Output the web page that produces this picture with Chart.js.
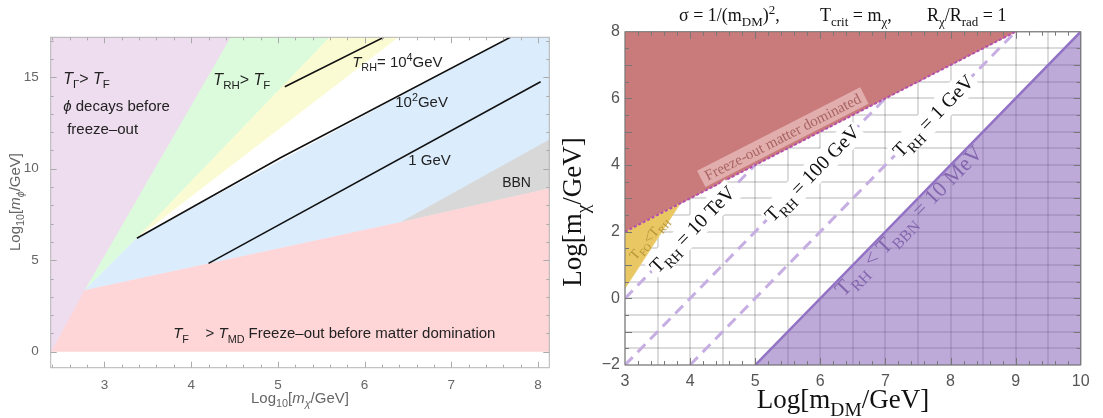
<!DOCTYPE html>
<html>
<head>
<meta charset="utf-8">
<script src="https://cdn.jsdelivr.net/npm/chart.js@4.4.1/dist/chart.umd.min.js"></script>
<style>
  html, body { margin: 0; padding: 0; background: #fff; }
  #wrap { position: relative; width: 1103px; height: 418px; }
  #leftBox { position: absolute; left: 0; top: 0; width: 560px; height: 418px; }
  #rightBox { position: absolute; left: 540px; top: 0; width: 563px; height: 418px; }
</style>
</head>
<body>
<div id="wrap">
  <div id="leftBox"><canvas id="leftChart" width="560" height="418"></canvas></div>
  <div id="rightBox"><canvas id="rightChart" width="563" height="418"></canvas></div>
</div>
<script>
const SANS = '"Liberation Sans", Arial, sans-serif';
const SERIF = '"Liberation Serif", "Times New Roman", serif';

// ---- left panel: Log10[m_phi] vs Log10[m_chi] ----
const leftXRange = [2.38, 8.13];
const leftYRange = [-0.87, 17.18];
const leftXTicks = [3, 4, 5, 6, 7, 8];
const leftYTicks = [0, 5, 10, 15];

const decayRegion = [[2.38, 0], [2.39, 0], [2.777, 3.37], [4.46, 17.18], [2.38, 17.18]];
const mdRegion = [[2.39, 0], [2.777, 3.37], [6.43, 7.1], [8.13, 8.93], [8.13, 0]];
const reheatRegion = [[2.777, 3.37], [4.46, 17.18], [5.6, 17.18], [3.374, 6.2]];
const yellowRegion = [[3.374, 6.2], [5.6, 17.18], [6.39, 17.18]];
const blueRegion = [[2.777, 3.37], [3.374, 6.2], [7.68, 17.18], [8.13, 17.18], [8.13, 11.57], [6.43, 7.1]];
const bbnRegion = [[6.43, 7.1], [8.13, 11.57], [8.13, 8.93]];
const trh4Line = [[5.08, 14.48], [6.22, 17.18]];
const trh2Line = [[3.374, 6.2], [5.03, 10.6], [7.68, 17.18]];
const trh0Line = [[4.2, 4.83], [8.03, 14.75]];

// ---- right panel: Log[m_chi] vs Log[m_DM] ----
const rightXRange = [3, 10];
const rightYRange = [-2, 8];
const freezeRegion = [[3, 2], [3.85, 2.85], [9, 8], [3, 8]];
const foRegion = [[3, 2], [3.85, 2.85], [3, 0.3]];
const bbnCut = [[5, -2], [10, 8], [10, -2]];
const trh10TeV = [[3, 0], [5, 4]];
const trh100GeV = [[3, -2], [7, 6]];
const trh1GeV = [[4, -2], [9, 8]];

const steps = (a, b, s) => { const out = []; for (let v = a; v <= b + 1e-9; v += s) out.push(Math.round(v * 100) / 100); return out; };
const pts = a => a.map(([x, y]) => ({x, y}));

function area(data, color) {
  return {data: pts(data), showLine: true, fill: 'shape', backgroundColor: color,
    borderColor: color, borderWidth: 0.8, pointRadius: 0};
}
function curve(data, color, width, dash) {
  return {data: pts(data), showLine: true, fill: false, borderColor: color,
    borderWidth: width, borderDash: dash || [], pointRadius: 0};
}
// first entry is the bottom layer
function layered(list) { return list.map((d, i) => Object.assign(d, {order: -i})); }

function drawRich(ctx, it, x, y) {
  const size = it.size, fam = it.family || SANS;
  ctx.save();
  ctx.translate(x, y);
  if (it.angle) ctx.rotate(it.angle * Math.PI / 180);
  ctx.textBaseline = 'alphabetic';
  const segs = it.parts.map(p => {
    const t = typeof p === 'string' ? p : p[0];
    const s = typeof p === 'string' ? '' : (p[1] || '');
    const small = s.includes('_') || s.includes('^');
    const fs = small ? size * 0.72 : size;
    const font = (s.includes('i') ? 'italic ' : '') + fs + 'px ' + fam;
    ctx.font = font;
    return {t, font, w: ctx.measureText(t).width,
      dy: s.includes('_') ? size * 0.28 : s.includes('^') ? -size * 0.42 : 0};
  });
  const total = segs.reduce((a, s) => a + s.w, 0);
  let cx = it.align === 'center' ? -total / 2 : (it.align === 'right' ? -total : 0);
  const base = size * 0.35;
  if (it.box) {
    const pad = it.boxPad || 3;
    ctx.fillStyle = it.box;
    ctx.fillRect(cx - pad, base - size * 0.92, total + 2 * pad, size * 1.22);
  }
  ctx.fillStyle = it.color || '#222';
  for (const s of segs) {
    ctx.font = s.font;
    ctx.fillText(s.t, cx, base + s.dy);
    cx += s.w;
  }
  ctx.restore();
}

function textLayer(items) {
  return {
    id: 'textLayer',
    afterDraw(chart) {
      const {x, y} = chart.scales;
      items.forEach(it => {
        const px = it.px !== undefined ? it.px : x.getPixelForValue(it.x);
        const py = it.py !== undefined ? it.py : y.getPixelForValue(it.y);
        drawRich(chart.ctx, it, px, py);
      });
    }
  };
}

function frameLayer(cfg) {
  return {
    id: 'frameLayer',
    afterDatasetsDraw(chart) {
      const {ctx, chartArea: a, scales: {x, y}} = chart;
      ctx.save();
      ctx.strokeStyle = cfg.color;
      ctx.lineWidth = 1;
      ctx.beginPath();
      const mark = (vals, len, isX) => vals.forEach(v => {
        if (isX) {
          if (v <= x.min || v >= x.max) return;
          const p = Math.round(x.getPixelForValue(v)) + 0.5;
          ctx.moveTo(p, a.bottom); ctx.lineTo(p, a.bottom - len);
          ctx.moveTo(p, a.top); ctx.lineTo(p, a.top + len);
        } else {
          if (v <= y.min || v >= y.max) return;
          const p = Math.round(y.getPixelForValue(v)) + 0.5;
          ctx.moveTo(a.left, p); ctx.lineTo(a.left + len, p);
          ctx.moveTo(a.right, p); ctx.lineTo(a.right - len, p);
        }
      });
      mark(cfg.xMajor, cfg.major, true);
      mark(cfg.xMinor, cfg.minor, true);
      mark(cfg.yMajor, cfg.major, false);
      mark(cfg.yMinor, cfg.minor, false);
      ctx.stroke();
      ctx.strokeStyle = cfg.border;
      ctx.strokeRect(a.left, a.top, a.right - a.left, a.bottom - a.top);
      ctx.restore();
    }
  };
}

// ---------- left chart ----------
const leftTexts = [
  {parts: [['T', 'i'], ['Γ', '_'], ['> '], ['T', 'i'], ['F', '_']], x: 2.524, y: 14.96, size: 16},
  {parts: [['ϕ', 'i'], [' decays before']], x: 2.524, y: 13.43, size: 15},
  {parts: ['freeze–out'], x: 2.57, y: 12.17, size: 15},
  {parts: [['T', 'i'], ['RH', '_'], ['> '], ['T', 'i'], ['F', '_']], x: 4.256, y: 14.9, size: 16},
  {parts: [['T', 'i'], ['RH', '_'], ['= 10'], ['4', '^'], ['GeV']], x: 5.857, y: 15.83, size: 15},
  {parts: ['10', ['2', '^'], 'GeV'], x: 6.353, y: 13.64, size: 15},
  {parts: ['1 GeV'], x: 6.503, y: 10.48, size: 15},
  {parts: ['BBN'], x: 7.586, y: 9.27, size: 14},
  {parts: [['T', 'i'], ['F', '_'], '    > ', ['T', 'i'], ['MD', '_'], ' Freeze–out before matter domination'],
    x: 3.792, y: 1.02, size: 15},
  {parts: ['Log', ['10', '_'], '[', ['m', 'i'], ['χ', 'i_'], '/GeV]'], px: 300, py: 398, size: 15,
    align: 'center', color: '#666'},
  {parts: ['Log', ['10', '_'], '[', ['m', 'i'], ['ϕ', 'i_'], '/GeV]'], px: 15, py: 202, size: 15,
    align: 'center', color: '#666', angle: -90}
];

new Chart(document.getElementById('leftChart'), {
  type: 'scatter',
  data: {
    datasets: layered([
      area(decayRegion, '#eedcef'),
      area(mdRegion, '#ffd6d8'),
      area(reheatRegion, '#dcfbdc'),
      area(yellowRegion, '#fbfbd3'),
      area(blueRegion, '#dbecfc'),
      area(bbnRegion, '#d8d8d8'),
      curve(trh4Line, '#111', 1.6),
      curve(trh2Line, '#111', 1.6),
      curve(trh0Line, '#111', 1.6)
    ])
  },
  options: {
    responsive: false, animation: false, events: [],
    layout: {padding: {left: 0, right: 10.7, top: 37.3, bottom: 0}},
    plugins: {legend: {display: false}, tooltip: {enabled: false}},
    scales: {
      x: {
        type: 'linear', min: leftXRange[0], max: leftXRange[1],
        grid: {display: false}, border: {display: false},
        afterBuildTicks: s => { s.ticks = leftXTicks.map(v => ({value: v})); },
        afterFit: s => { s.height = 50.3; },
        ticks: {padding: 1, color: '#666', font: {family: SANS, size: 13.5}, autoSkip: false, maxRotation: 0}
      },
      y: {
        type: 'linear', min: leftYRange[0], max: leftYRange[1],
        grid: {display: false}, border: {display: false},
        afterBuildTicks: s => { s.ticks = leftYTicks.map(v => ({value: v})); },
        afterFit: s => { s.width = 50.7; },
        ticks: {padding: 4, color: '#666', font: {family: SANS, size: 13.5}, autoSkip: false}
      }
    }
  },
  plugins: [
    frameLayer({color: '#aaa', border: '#b4b4b4', major: 6, minor: 3,
      xMajor: leftXTicks, xMinor: steps(2.4, 8.2, 0.2), yMajor: leftYTicks, yMinor: steps(0, 17, 1)}),
    textLayer(leftTexts)
  ]
});

// ---------- right chart ----------
const rightTexts = [
  {parts: ['σ = 1/(m', ['DM', '_'], ')', ['2', '^'], ','], px: 139, py: 15, size: 18, family: SERIF, color: '#111'},
  {parts: ['T', ['crit', '_'], ' = m', ['χ', '_'], ','], px: 280, py: 15, size: 18, family: SERIF, color: '#111'},
  {parts: ['R', ['χ', '_'], '/R', ['rad', '_'], ' = 1'], px: 387, py: 15, size: 18, family: SERIF, color: '#111'},
  {parts: ['Log[m', ['DM', '_'], '/GeV]'], px: 303, py: 399, size: 27, family: SERIF, align: 'center', color: '#111'},
  {parts: ['Log[m', ['χ', '_'], '/GeV]'], px: 32, py: 212, size: 27, family: SERIF, align: 'center',
    color: '#111', angle: -90},
  {parts: ['Freeze-out matter dominated'], x: 5.42, y: 4.85, size: 15, family: SERIF, align: 'center',
    color: 'rgba(165,95,95,0.95)', angle: -27.1, box: 'rgba(255,235,235,0.45)', boxPad: 5},
  {parts: ['T', ['RH', '_'], ' = 10 TeV'], x: 4.03, y: 2.08, size: 20, family: SERIF, align: 'center',
    color: '#111', angle: -45.7, box: '#fff', boxPad: 2},
  {parts: ['T', ['RH', '_'], ' = 100 GeV'], x: 5.87, y: 3.76, size: 20, family: SERIF, align: 'center',
    color: '#111', angle: -45.7, box: '#fff', boxPad: 2},
  {parts: ['T', ['RH', '_'], ' = 1 GeV'], x: 7.73, y: 5.48, size: 20, family: SERIF, align: 'center',
    color: '#111', angle: -45.7, box: '#fff', boxPad: 2},
  {parts: ['T', ['RH', '_'], ' < T', ['BBN', '_'], ' = 10 MeV'], x: 7.35, y: 2.34, size: 22, family: SERIF,
    align: 'center', color: 'rgba(125,95,170,0.9)', angle: -45.7},
  {parts: ['T', ['FO', '_'], '<T', ['RH', '_']], x: 3.36, y: 1.82, size: 14, family: SERIF,
    align: 'center', color: 'rgba(175,140,50,0.9)', angle: -50}
];

new Chart(document.getElementById('rightChart'), {
  type: 'scatter',
  data: {
    datasets: layered([
      area(freezeRegion, '#c97b7b'),
      area(foRegion, '#e9c863'),
      area(bbnCut, 'rgba(125,85,180,0.5)'),
      curve(trh10TeV, '#c6aee2', 3, [11, 7]),
      curve(trh100GeV, '#c6aee2', 3, [11, 7]),
      curve(trh1GeV, '#c6aee2', 3, [11, 7]),
      curve([bbnCut[0], bbnCut[1]], '#9272c4', 2.5),
      curve(freezeRegion.slice(0, 3), '#b44fae', 2, [3, 2])
    ])
  },
  options: {
    responsive: false, animation: false, events: [],
    layout: {padding: {left: 0, right: 22.3, top: 31.7, bottom: 0}},
    plugins: {legend: {display: false}, tooltip: {enabled: false}},
    scales: {
      x: {
        type: 'linear', min: rightXRange[0], max: rightXRange[1],
        grid: {color: 'rgba(0,0,0,0.14)', lineWidth: 2, drawTicks: false}, border: {display: false},
        afterBuildTicks: s => { s.ticks = steps(3, 10, 0.5).map(v => ({value: v})); },
        afterFit: s => { s.height = 53; },
        ticks: {padding: 7, color: '#555', font: {family: SANS, size: 16}, autoSkip: false, maxRotation: 0,
          callback: v => Number.isInteger(v) ? String(v) : ''}
      },
      y: {
        type: 'linear', min: rightYRange[0], max: rightYRange[1],
        grid: {color: 'rgba(0,0,0,0.14)', lineWidth: 2, drawTicks: false}, border: {display: false},
        afterBuildTicks: s => { s.ticks = steps(-2, 8, 0.5).map(v => ({value: v})); },
        afterFit: s => { s.width = 85; },
        ticks: {padding: 5, color: '#555', font: {family: SANS, size: 16}, autoSkip: false,
          callback: v => (Number.isInteger(v) && v % 2 === 0) ? (v < 0 ? '−' + (-v) : String(v)) : ''}
      }
    }
  },
  plugins: [
    frameLayer({color: '#777', border: '#777', major: 7, minor: 4,
      xMajor: steps(3, 10, 1), xMinor: steps(3, 10, 0.2), yMajor: steps(-2, 8, 1), yMinor: steps(-2, 8, 0.5)}),
    textLayer(rightTexts)
  ]
});
</script>
</body>
</html>
